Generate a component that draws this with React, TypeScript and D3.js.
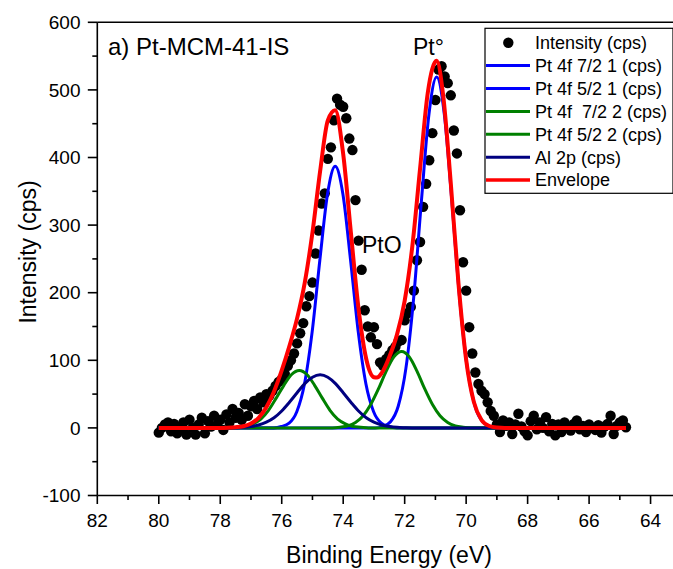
import React from "react";
import * as d3 from "d3";

// Measured XPS points [binding energy eV, intensity cps]
const intensityPoints: [number, number][] = [
  [80.0, -7], [79.9, 0], [79.8, 5], [79.7, 8], [79.6, -5], [79.5, 6], [79.4, -8], [79.3, -3], [79.2, 8], [79.1, -10],
  [79.0, 12], [78.9, 0], [78.8, -10], [78.7, 5], [78.6, 15], [78.5, -8], [78.4, 10], [78.3, 2], [78.2, 18], [78.1, 5],
  [78.0, 12], [77.9, -3], [77.8, 20], [77.7, 8], [77.6, 28], [77.5, 15], [77.4, 22], [77.3, 12], [77.2, 35], [77.1, 18],
  [77.0, 32], [76.9, 40], [76.8, 28], [76.7, 45], [76.6, 38], [76.5, 50], [76.4, 48], [76.3, 55], [76.2, 62], [76.1, 68],
  [76.0, 72], [75.9, 80], [75.8, 92], [75.7, 100], [75.6, 110], [75.5, 125], [75.4, 140], [75.3, 155], [75.2, 180], [75.1, 195],
  [75.0, 215], [74.9, 258], [74.8, 292], [74.7, 332], [74.6, 347], [74.5, 398], [74.4, 415], [74.3, 455], [74.2, 487], [74.1, 478],
  [74.0, 475], [73.9, 458], [73.8, 428], [73.7, 411], [73.6, 337], [73.5, 277], [73.4, 234], [73.3, 174], [73.2, 150], [73.1, 134],
  [73.0, 149], [72.9, 124], [72.8, 97], [72.7, 92], [72.6, 102], [72.5, 108], [72.4, 115], [72.3, 120], [72.2, 128], [72.1, 130],
  [72.0, 159], [71.9, 170], [71.8, 179], [71.7, 203], [71.6, 248], [71.5, 275], [71.4, 327], [71.3, 361], [71.2, 396], [71.1, 436],
  [71.0, 485], [70.9, 530], [70.8, 535], [70.7, 520], [70.6, 510], [70.5, 492], [70.4, 440], [70.3, 406], [70.2, 322], [70.1, 245],
  [70.0, 203], [69.9, 149], [69.8, 110], [69.7, 82], [69.6, 65], [69.5, 55], [69.4, 50], [69.3, 38], [69.2, 25], [69.1, 18],
  [69.0, 5], [68.9, -6], [68.8, 11], [68.7, 3], [68.6, 8], [68.5, -9], [68.4, 5], [68.3, 21], [68.2, 2], [68.1, -5],
  [68.0, -11], [67.9, 10], [67.8, 18], [67.7, -2], [67.6, 8], [67.5, 0], [67.4, 16], [67.3, -5], [67.2, 6], [67.1, -11],
  [67.0, 5], [66.9, -6], [66.8, 8], [66.7, 2], [66.6, -4], [66.5, 6], [66.4, 11], [66.3, -2], [66.2, 3], [66.1, -6],
  [66.0, 5], [65.9, 0], [65.8, -3], [65.7, 4], [65.6, -7], [65.5, 2], [65.4, 6], [65.3, 18], [65.2, -9], [65.1, 3],
  [65.0, 8], [64.9, 11], [64.8, 1],
];

// Fitted component curves [eV, cps]
const pt4f72_1: [number, number][] = [
  [80.0, 0], [72.96, 0], [72.71, 2], [72.46, 9], [72.21, 32], [71.96, 88], [71.71, 191], [71.46, 333], [71.21, 464],
  [70.96, 519], [70.71, 464], [70.46, 333], [70.21, 191], [69.96, 88], [69.71, 32], [69.46, 9], [69.21, 2], [68.96, 0], [64.8, 0],
];
const pt4f52_1: [number, number][] = [
  [80.0, 0], [76.26, 0], [76.01, 2], [75.76, 7], [75.51, 24], [75.26, 65], [75.01, 142], [74.76, 248], [74.51, 346],
  [74.26, 387], [74.01, 346], [73.76, 248], [73.51, 142], [73.26, 65], [73.01, 24], [72.76, 7], [72.51, 2], [72.26, 0], [64.8, 0],
];
const pt4f72_2: [number, number][] = [
  [80.0, 0], [74.35, 0], [74.1, 1], [73.85, 3], [73.6, 8], [73.35, 18], [73.1, 35], [72.85, 58], [72.6, 84], [72.35, 105],
  [72.1, 113], [71.85, 105], [71.6, 84], [71.35, 58], [71.1, 35], [70.85, 18], [70.6, 8], [70.35, 3], [70.1, 1], [69.85, 0], [64.8, 0],
];
const pt4f52_2: [number, number][] = [
  [80.0, 0], [77.68, 0], [77.43, 1], [77.18, 2], [76.93, 6], [76.68, 13], [76.43, 26], [76.18, 44], [75.93, 63], [75.68, 79],
  [75.43, 85], [75.18, 79], [74.93, 63], [74.68, 44], [74.43, 26], [74.18, 13], [73.93, 6], [73.68, 2], [73.43, 1], [73.18, 0], [64.8, 0],
];
const al2p: [number, number][] = [
  [80.0, 0], [77.75, 0], [77.5, 0.3], [77.25, 0.8], [77.0, 2], [76.75, 4.3], [76.5, 8.5], [76.25, 15], [76.0, 25], [75.75, 38],
  [75.5, 52], [75.25, 65.5], [75.0, 75], [74.75, 78.5], [74.5, 75], [74.25, 65.5], [74.0, 52], [73.75, 38], [73.5, 25],
  [73.25, 15], [73.0, 8.5], [72.75, 4.3], [72.5, 2], [72.25, 0.8], [72.0, 0.3], [71.75, 0], [64.8, 0],
];
const envelope: [number, number][] = [
  [80.0, 0], [78.0, 0], [77.75, 0.3], [77.5, 1], [77.25, 2.5], [77.0, 6.6], [76.75, 15], [76.5, 30.5], [76.25, 54], [76.0, 85],
  [75.75, 121], [75.5, 162], [75.25, 215], [75.0, 289], [74.75, 380], [74.5, 455], [74.26, 470], [74.0, 405], [73.75, 289],
  [73.5, 176], [73.25, 102], [73.0, 75], [72.9, 74.5], [72.75, 81], [72.5, 105], [72.25, 138], [72.0, 188], [71.75, 269],
  [71.5, 383], [71.25, 495], [70.96, 543], [70.75, 493], [70.5, 362], [70.25, 214], [70.0, 101], [69.75, 38.5], [69.5, 11.7],
  [69.25, 2.8], [69.0, 0.6], [68.75, 0], [64.8, 0],
];

const xMajorTicks = [82, 80, 78, 76, 74, 72, 70, 68, 66, 64];
const xMinorTicks = [81, 79, 77, 75, 73, 71, 69, 67, 65];
const yMajorTicks = [-100, 0, 100, 200, 300, 400, 500, 600];
const yMinorTicks = [-50, 50, 150, 250, 350, 450, 550];

const legendItems = [
  { label: "Intensity (cps)", color: "#000000", kind: "dot" },
  { label: "Pt 4f 7/2 1 (cps)", color: "#0000ff", kind: "line" },
  { label: "Pt 4f 5/2 1 (cps)", color: "#0000ff", kind: "line" },
  { label: "Pt 4f  7/2 2 (cps)", color: "#008000", kind: "line" },
  { label: "Pt 4f 5/2 2 (cps)", color: "#008000", kind: "line" },
  { label: "Al 2p (cps)", color: "#000080", kind: "line" },
  { label: "Envelope", color: "#ff0000", kind: "line" },
];

const W = 673;
const H = 569;
const FONT = "'Liberation Sans', Arial, sans-serif";

export default function App() {
  const x = d3.scaleLinear().domain([82, 63.27]).range([97.3, 673]);
  const y = d3.scaleLinear().domain([-100, 600]).range([495.5, 22.3]);
  const line = d3
    .line<[number, number]>()
    .x((d) => x(d[0]))
    .y((d) => y(d[1]))
    .curve(d3.curveMonotoneX);

  const comps: { data: [number, number][]; color: string; w: number }[] = [
    { data: pt4f72_1, color: "#0000ff", w: 3 },
    { data: pt4f52_1, color: "#0000ff", w: 3 },
    { data: pt4f72_2, color: "#008000", w: 3 },
    { data: pt4f52_2, color: "#008000", w: 3 },
    { data: al2p, color: "#000080", w: 3 },
    { data: envelope, color: "#ff0000", w: 4 },
  ];

  const x0 = x.range()[0];
  const y0 = y.range()[0];
  const yTop = y.range()[1];

  return (
    <svg
      width={W}
      height={H}
      style={{ position: "absolute", left: 0, top: 0, background: "#fff" }}
      fontFamily={FONT}
    >
      <rect x={0} y={0} width={W} height={H} fill="#fff" />
      {intensityPoints.map((d, i) => (
        <circle key={i} cx={x(d[0])} cy={y(d[1])} r={5.2} fill="#000" />
      ))}
      {comps.map((c, i) => (
        <path key={i} d={line(c.data) || ""} fill="none" stroke={c.color} strokeWidth={c.w} strokeLinejoin="round" />
      ))}

      <line x1={x0} x2={673} y1={y0} y2={y0} stroke="#000" strokeWidth={1.6} />
      <line x1={x0} x2={673} y1={yTop} y2={yTop} stroke="#000" strokeWidth={1.6} />
      <line x1={x0} x2={x0} y1={yTop} y2={y0} stroke="#000" strokeWidth={1.6} />
      {xMajorTicks.map((t) => (
        <g key={"xm" + t}>
          <line x1={x(t)} x2={x(t)} y1={y0} y2={y0 + 8.5} stroke="#000" strokeWidth={1.6} />
          <text x={x(t)} y={527} fontSize={19} textAnchor="middle" fill="#000">
            {t}
          </text>
        </g>
      ))}
      {xMinorTicks.map((t) => (
        <line key={"xn" + t} x1={x(t)} x2={x(t)} y1={y0} y2={y0 + 4.5} stroke="#000" strokeWidth={1.6} />
      ))}
      {yMajorTicks.map((t) => (
        <g key={"ym" + t}>
          <line x1={x0 - 9.5} x2={x0} y1={y(t)} y2={y(t)} stroke="#000" strokeWidth={1.6} />
          <text x={80.5} y={y(t) + 6.7} fontSize={19} textAnchor="end" fill="#000">
            {t}
          </text>
        </g>
      ))}
      {yMinorTicks.map((t) => (
        <line key={"yn" + t} x1={x0 - 5} x2={x0} y1={y(t)} y2={y(t)} stroke="#000" strokeWidth={1.6} />
      ))}

      <text x={389} y={563} fontSize={23} textAnchor="middle" fill="#000">
        Binding Energy (eV)
      </text>
      <text transform={`translate(36, ${252}) rotate(-90)`} fontSize={23} textAnchor="middle" fill="#000">
        Intensity (cps)
      </text>

      <text x={108} y={55} fontSize={24} fill="#000">
        a) Pt-MCM-41-IS
      </text>
      <text x={413} y={55} fontSize={23} fill="#000">
        Pt°
      </text>
      <text x={362} y={253} fontSize={23} fill="#000">
        PtO
      </text>

      <rect x={485} y={28.3} width={188} height={165} fill="#fff" stroke="#000" strokeWidth={1.2} />
      {legendItems.map((it, i) => {
        const cy = 42.7 + i * 22.9;
        return (
          <g key={"lg" + i}>
            {it.kind === "dot" ? (
              <circle cx={508.3} cy={cy} r={5.2} fill={it.color} />
            ) : (
              <line x1={486} x2={530} y1={cy} y2={cy} stroke={it.color} strokeWidth={it.color === "#ff0000" ? 3.5 : 3} />
            )}
            <text x={535} y={cy + 6.3} fontSize={18} fill="#000" style={{ whiteSpace: "pre" }}>
              {it.label}
            </text>
          </g>
        );
      })}
    </svg>
  );
}
